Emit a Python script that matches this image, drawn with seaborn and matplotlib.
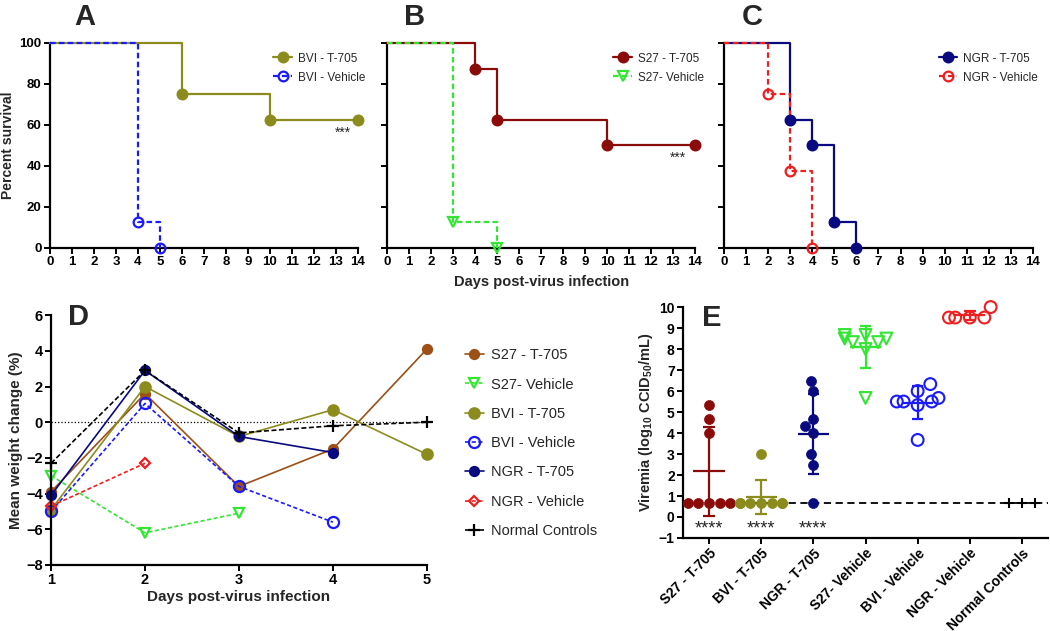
## Survival, weight change and viremia panels (A-E)

import numpy as np
import pandas as pd
import matplotlib
matplotlib.use("Agg")
import matplotlib.pyplot as plt
import seaborn as sns
from matplotlib.lines import Line2D

# ---- survival (percent), Kaplan-Meier steps ----
surv_bvi_t705_days = [0, 6, 10, 14]
surv_bvi_t705 = [100, 75, 62.5, 62.5]
surv_bvi_veh_days = [0, 4, 5]
surv_bvi_veh = [100, 12.5, 0]
surv_s27_t705_days = [0, 4, 5, 10, 14]
surv_s27_t705 = [100, 87.5, 62.5, 50, 50]
surv_s27_veh_days = [0, 3, 5]
surv_s27_veh = [100, 12.5, 0]
surv_ngr_t705_days = [0, 3, 4, 5, 6]
surv_ngr_t705 = [100, 62.5, 50, 12.5, 0]
surv_ngr_veh_days = [0, 2, 3, 4]
surv_ngr_veh = [100, 75, 37.5, 0]

# ---- mean weight change (%) ----
weight_days = [1, 2, 3, 4, 5]
weight_s27_t705 = [-3.9, 1.6, -3.6, -1.5, 4.1]
weight_s27_veh = [-3.0, -6.2, -5.1, np.nan, np.nan]
weight_bvi_t705 = [-4.9, 2.0, -0.8, 0.7, -1.8]
weight_bvi_veh = [-5.0, 1.05, -3.6, -5.6, np.nan]
weight_ngr_t705 = [-4.1, 2.9, -0.8, -1.7, np.nan]
weight_ngr_veh = [-4.7, -2.3, np.nan, np.nan, np.nan]
weight_normal = [-2.3, 2.9, -0.6, -0.2, 0.0]

# ---- viremia (log10 CCID50/mL) ----
vir_groups = ['S27 - T-705', 'BVI - T-705', 'NGR - T-705', 'S27- Vehicle',
              'BVI - Vehicle', 'NGR - Vehicle', 'Normal Controls']
vir_s27_t705 = [0.67, 0.67, 0.67, 0.67, 0.67, 4.0, 4.67, 5.33]
vir_bvi_t705 = [0.67, 0.67, 0.67, 0.67, 0.67, 0.67, 0.67, 3.0]
vir_ngr_t705 = [0.67, 2.5, 3.0, 4.0, 4.33, 4.67, 6.0, 6.5]
vir_s27_veh = [5.67, 8.0, 8.33, 8.33, 8.5, 8.5, 8.67, 8.67]
vir_bvi_veh = [3.67, 5.33, 5.5, 5.5, 5.5, 5.67, 6.0, 6.33]
vir_ngr_veh = [9.5, 9.5, 9.5, 9.5, 10.0]
vir_normal = [0.67, 0.67, 0.67]
vir_lod = 0.67

OLIVE = '#8c8c1e'
DARKRED = '#8b0a0a'
BROWN = '#9c4f17'
GREEN = '#33e633'
BLUE = '#1a1aff'
NAVY = '#0a0a80'
RED = '#f01e1e'
DASH = (0, (2.5, 1.5))

sns.set_theme(style="ticks")
plt.rcParams['font.family'] = ['Liberation Sans', 'DejaVu Sans']
plt.rcParams['mathtext.default'] = 'regular'


def style_axes(ax, labelsize=9):
    sns.despine(ax=ax)
    for s in ['left', 'bottom']:
        ax.spines[s].set_linewidth(1.6)
        ax.spines[s].set_color('black')
    ax.tick_params(direction='out', length=4, width=1.4, colors='black',
                   labelsize=labelsize, pad=2)
    plt.setp(ax.get_xticklabels() + ax.get_yticklabels(), fontweight='bold')


def survival(ax, days, surv, color, marker, filled, dashed):
    ls = DASH if dashed else '-'
    mfc = color if filled else 'none'
    sns.lineplot(x=days, y=surv, ax=ax, color=color, lw=1.6, linestyle=ls,
                 drawstyle='steps-post', clip_on=False, zorder=3)
    ax.plot(days[1:], surv[1:], ls='none', marker=marker, ms=7, mec=color,
            mfc=mfc, mew=1.6, clip_on=False, zorder=4)
    return Line2D([], [], color=color, lw=1.6, ls=ls, marker=marker, ms=7,
                  mec=color, mfc=mfc, mew=1.6)


fig = plt.figure(figsize=(10.5, 6.31), dpi=100)
ax_a = fig.add_axes([0.0476, 0.607, 0.2933, 0.325])
ax_b = fig.add_axes([0.3686, 0.607, 0.2933, 0.325])
ax_c = fig.add_axes([0.6895, 0.607, 0.2943, 0.325])
ax_d = fig.add_axes([0.0486, 0.1046, 0.358, 0.396])
ax_e = fig.add_axes([0.6505, 0.1474, 0.3476, 0.366])

panels = [
    (ax_a, [(surv_bvi_t705_days, surv_bvi_t705, OLIVE, 'o', True, False, 'BVI - T-705'),
            (surv_bvi_veh_days, surv_bvi_veh, BLUE, 'o', False, True, 'BVI - Vehicle')]),
    (ax_b, [(surv_s27_t705_days, surv_s27_t705, DARKRED, 'o', True, False, 'S27 - T-705'),
            (surv_s27_veh_days, surv_s27_veh, GREEN, 'v', False, True, 'S27- Vehicle')]),
    (ax_c, [(surv_ngr_t705_days, surv_ngr_t705, NAVY, 'o', True, False, 'NGR - T-705'),
            (surv_ngr_veh_days, surv_ngr_veh, RED, 'o', False, True, 'NGR - Vehicle')]),
]
legend_x = [0.69, 0.70, 0.66]
for (ax, series), lx in zip(panels, legend_x):
    handles, labels = [], []
    for days, surv, c, m, filled, dashed, lab in series:
        handles.append(survival(ax, days, surv, c, m, filled, dashed))
        labels.append(lab)
    ax.set_xlim(0, 14)
    ax.set_ylim(0, 100)
    ax.set_xticks(range(0, 15))
    ax.set_yticks(range(0, 101, 20))
    ax.set_xlabel('')
    ax.set_ylabel('')
    style_axes(ax, labelsize=9.5)
    ax.legend(handles, labels, loc='upper left', bbox_to_anchor=(lx, 1.005),
              frameon=False, fontsize=8.5, handlelength=1.6, handletextpad=0.5,
              labelspacing=0.6)

ax_b.tick_params(labelleft=False)
ax_c.tick_params(labelleft=False)
ax_a.set_ylabel('Percent survival', fontsize=10, fontweight='bold', labelpad=3)
ax_a.text(13.3, 56, '***', ha='center', va='center', fontsize=10)
ax_b.text(13.2, 44, '***', ha='center', va='center', fontsize=10)
fig.text(542 / 1050, 1 - 282 / 631, 'Days post-virus infection', ha='center',
         va='center', fontsize=10.5, fontweight='bold')

# ---- panel D ----
weight_series = [
    ('S27 - T-705', weight_s27_t705, BROWN, 'o', True, '-', 6.5),
    ('S27- Vehicle', weight_s27_veh, GREEN, 'v', False, DASH, 7),
    ('BVI - T-705', weight_bvi_t705, OLIVE, 'o', True, '-', 7.5),
    ('BVI - Vehicle', weight_bvi_veh, BLUE, 'o', False, DASH, 8),
    ('NGR - T-705', weight_ngr_t705, NAVY, 'o', True, '-', 6.5),
    ('NGR - Vehicle', weight_ngr_veh, RED, 'D', False, DASH, 5),
    ('Normal Controls', weight_normal, 'black', '+', True, (0, (3, 1.5)), 8),
]
ax_d.axhline(0, ls=':', color='black', lw=0.9, zorder=1)
for lab, vals, c, m, filled, ls, ms in weight_series:
    sns.lineplot(x=weight_days, y=vals, ax=ax_d, color=c, lw=1.2, linestyle=ls,
                 marker=m, markersize=ms, markeredgecolor=c,
                 markerfacecolor=c if filled else 'none', markeredgewidth=1.6,
                 label=lab, clip_on=False)
ax_d.set_xlim(1, 5)
ax_d.set_ylim(-8, 6)
ax_d.set_xticks(weight_days)
ax_d.set_yticks(range(-8, 7, 2))
style_axes(ax_d, labelsize=10.5)
ax_d.set_xlabel('Days post-virus infection', fontsize=11, fontweight='bold', labelpad=2)
ax_d.set_ylabel('Mean weight change (%)', fontsize=11, fontweight='bold', labelpad=2)
ax_d.legend(loc='upper left', bbox_to_anchor=(1.066, 0.92), frameon=False,
            fontsize=10.5, handlelength=1.3, handletextpad=0.5, labelspacing=1.05)

# ---- panel E ----
vir_values = [vir_s27_t705, vir_bvi_t705, vir_ngr_t705, vir_s27_veh,
              vir_bvi_veh, vir_ngr_veh, vir_normal]
vir_colors = [DARKRED, OLIVE, NAVY, GREEN, BLUE, RED, 'black']
vir_markers = ['o', 'o', 'o', 'v', 'o', 'o', '+']
vir_filled = [True, True, True, False, False, False, True]
vir_df = pd.DataFrame({
    'group': np.repeat(vir_groups, [len(v) for v in vir_values]),
    'titer': np.concatenate(vir_values),
})

ax_e.axhline(vir_lod, ls=(0, (4, 2.5)), color='black', lw=1.3, zorder=2)
for i, (g, vals, c, m, filled) in enumerate(zip(vir_groups, vir_values, vir_colors,
                                                 vir_markers, vir_filled)):
    sub = vir_df[vir_df['group'] == g]
    n_before = len(ax_e.collections)
    sns.swarmplot(data=sub, x='group', y='titer', order=vir_groups, ax=ax_e,
                  color=c, marker=m, size=7.2 if filled else 8.5,
                  facecolor=c if filled else 'none', edgecolor=c,
                  linewidth=0.5 if (filled and m == 'o') else 1.5,
                  warn_thresh=1.0)
    for coll in ax_e.collections[n_before:]:
        if len(coll.get_offsets()) > 0:
            coll.set_clip_on(False)
    if g != 'Normal Controls':
        mu = np.mean(vals)
        sd = np.std(vals, ddof=1)
        ax_e.hlines(mu, i - 0.3, i + 0.3, color=c, lw=1.6, zorder=4)
        ax_e.vlines(i, mu - sd, mu + sd, color=c, lw=1.6, zorder=4)
        ax_e.hlines([mu - sd, mu + sd], i - 0.11, i + 0.11, color=c, lw=1.6, zorder=4)
for i in range(3):
    ax_e.text(i, -0.55, '****', ha='center', va='center', fontsize=13)

ax_e.set_xlim(-0.5, 6.5)
ax_e.set_ylim(-1, 10)
ax_e.set_yticks(range(-1, 11))
ax_e.set_xticks(range(len(vir_groups)))
ax_e.set_xticklabels(vir_groups)
style_axes(ax_e, labelsize=10)
plt.setp(ax_e.get_xticklabels(), rotation=45, ha='right', rotation_mode='anchor')
ax_e.set_xlabel('')
ax_e.set_ylabel('Viremia (log$_{10}$ CCID$_{50}$/mL)', fontsize=10.5,
                fontweight='bold', labelpad=3)

# panel letters
for letter, x, y in [('A', 85, 17), ('B', 415, 17), ('C', 752, 17),
                     ('D', 78, 317), ('E', 712, 318)]:
    fig.text(x / 1050, 1 - y / 631, letter, ha='center', va='center',
             fontsize=21, fontweight='bold')

fig.savefig('out.png', dpi=100)
plt.close(fig)
